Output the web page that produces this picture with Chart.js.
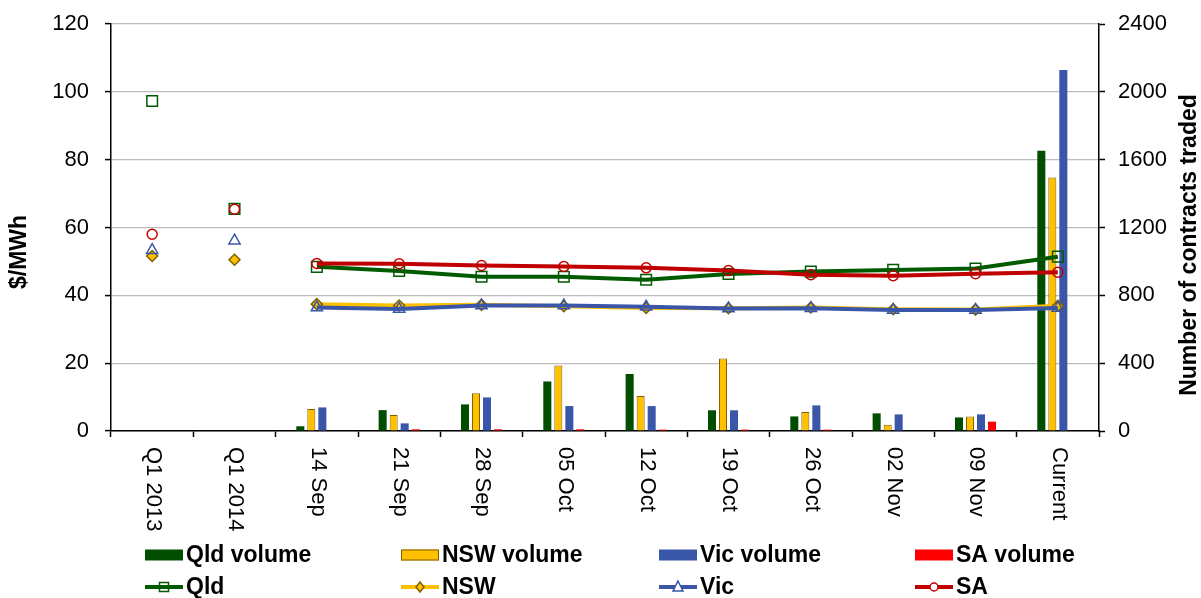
<!DOCTYPE html>
<html>
<head>
<meta charset="utf-8">
<title>Contract prices and volumes</title>
<script src="https://cdn.jsdelivr.net/npm/chart.js@4/dist/chart.umd.min.js"></script>
<style>
  html, body { margin: 0; padding: 0; background: #ffffff; }
  #wrap { width: 1201px; height: 598px; }
</style>
</head>
<body>
<div id="wrap"><canvas id="c" width="1201" height="598"></canvas></div>
<script>
// Categories along the horizontal axis
const categories = ['Q1 2013', 'Q1 2014', '14 Sep', '21 Sep', '28 Sep', '05 Oct', '12 Oct',
                    '19 Oct', '26 Oct', '02 Nov', '09 Nov', 'Current'];

// Prices ($/MWh, left axis)
const qldPrice = [97.3, 65.5, 48.4, 47.2, 45.5, 45.5, 44.6, 46.3, 47.0, 47.5, 47.9, 51.4];
const nswPrice = [51.6, 50.5, 37.4, 37.0, 37.2, 36.8, 36.3, 36.2, 36.4, 35.9, 35.8, 36.9];
const vicPrice = [53.3, 56.1, 36.4, 36.0, 37.0, 37.0, 36.6, 36.1, 36.2, 35.7, 35.7, 36.3];
const saPrice  = [58.0, 65.4, 49.4, 49.3, 48.8, 48.5, 48.1, 47.3, 46.1, 45.8, 46.4, 46.8];

// Contracts traded (right axis)
const qldVolume = [0, 0, 28, 123, 157, 292, 336, 122, 86, 104, 80, 1652];
const nswVolume = [0, 0, 129, 94, 222, 386, 206, 427, 112, 37, 86, 1495];
const vicVolume = [0, 0, 139, 45, 198, 147, 147, 122, 151, 98, 98, 2129];
const saVolume  = [0, 0, 0, 10, 10, 10, 8, 8, 8, 0, 55, 0];

// Axis ticks
const priceTicks = [0, 20, 40, 60, 80, 100, 120];
const volumeTicks = [0, 400, 800, 1200, 1600, 2000, 2400];

const FONT = '"Liberation Sans", Arial, Helvetica, sans-serif';
const C = {
  qldBar: '#004d00', qldLine: '#005a00',
  nsw: '#ffc000', nswEdge: '#7f6000',
  vic: '#3a56a8', sa: '#ff0000', saLine: '#c00000'
};

// the quarterly points stand alone; the weekly series is joined up
const hideLead = ctx => (ctx.p0DataIndex < 2 ? 'rgba(0,0,0,0)' : undefined);

function lineSet(label, data, color, style, radius, fill, edge, order) {
  return {
    type: 'line', label, data, yAxisID: 'y', order,
    borderColor: color, borderWidth: 4, tension: 0, fill: false,
    pointStyle: style, pointRadius: radius, pointHoverRadius: radius,
    pointBackgroundColor: fill, pointBorderColor: edge, pointBorderWidth: 1.5,
    segment: { borderColor: hideLead }
  };
}
function barSet(label, data, color, edge, bw) {
  return {
    type: 'bar', label, data, yAxisID: 'y2', order: 10,
    backgroundColor: color, borderColor: edge, borderWidth: bw,
    categoryPercentage: 0.535, barPercentage: 0.73
  };
}

const datasets = [
  barSet('Qld volume', qldVolume, C.qldBar, C.qldBar, 0),
  barSet('NSW volume', nswVolume, C.nsw, C.nswEdge, 1),
  barSet('Vic volume', vicVolume, C.vic, C.vic, 0),
  barSet('SA volume', saVolume, C.sa, C.sa, 0),
  lineSet('Qld', qldPrice, C.qldLine, 'rect', 7.5, 'rgba(0,0,0,0)', C.qldLine, 4),
  lineSet('NSW', nswPrice, C.nsw, 'rectRot', 5.5, C.nsw, C.nswEdge, 3),
  lineSet('Vic', vicPrice, C.vic, 'triangle', 6.5, 'rgba(0,0,0,0)', C.vic, 2),
  lineSet('SA', saPrice, C.saLine, 'circle', 5, 'rgba(0,0,0,0)', C.saLine, 1)
];

// legend entries: [label, kind, colour, edge, marker]
const legendRows = [
  [['Qld volume', 'bar', C.qldBar, null], ['NSW volume', 'bar', C.nsw, C.nswEdge],
   ['Vic volume', 'bar', C.vic, null], ['SA volume', 'bar', C.sa, null]],
  [['Qld', 'line', C.qldLine, C.qldLine, 'square'], ['NSW', 'line', C.nsw, C.nswEdge, 'diamond'],
   ['Vic', 'line', C.vic, C.vic, 'triangle'], ['SA', 'line', C.saLine, C.saLine, 'circle']]
];
const legendCols = [145, 401, 659, 915];
const legendRowY = [555, 587];

function marker(ctx, kind, x, y, fill, edge) {
  ctx.save();
  ctx.lineWidth = 1.5;
  ctx.strokeStyle = edge;
  ctx.beginPath();
  if (kind === 'square') {
    ctx.rect(x - 4.5, y - 4.5, 9, 9);
  } else if (kind === 'diamond') {
    ctx.moveTo(x, y - 5); ctx.lineTo(x + 4, y); ctx.lineTo(x, y + 5); ctx.lineTo(x - 4, y); ctx.closePath();
  } else if (kind === 'triangle') {
    ctx.moveTo(x, y - 6); ctx.lineTo(x + 5, y + 4); ctx.lineTo(x - 5, y + 4); ctx.closePath();
  } else {
    ctx.arc(x, y, 4, 0, Math.PI * 2);
  }
  if (fill) { ctx.fillStyle = fill; ctx.fill(); }
  ctx.stroke();
  ctx.restore();
}

const extras = {
  id: 'extras',
  afterDraw(chart) {
    const ctx = chart.ctx;
    const xs = chart.scales.x;
    const area = chart.chartArea;
    ctx.save();
    ctx.fillStyle = '#000';

    // category labels, turned to read downwards
    ctx.font = '22px ' + FONT;
    ctx.textAlign = 'left';
    ctx.textBaseline = 'middle';
    categories.forEach((label, i) => {
      const px = xs.getPixelForValue(i);
      ctx.save();
      ctx.translate(px + 1, area.bottom + 16);
      ctx.rotate(Math.PI / 2);
      ctx.fillText(label, 0, 0);
      ctx.restore();
    });

    // axis titles, both reading upwards
    ctx.font = 'bold 23px ' + FONT;
    ctx.textAlign = 'center';
    ctx.save();
    ctx.translate(20, 252);
    ctx.rotate(-Math.PI / 2);
    ctx.fillText('$/MWh', 0, 0);
    ctx.restore();
    ctx.save();
    ctx.translate(1190, 245);
    ctx.rotate(-Math.PI / 2);
    ctx.fillText('Number of contracts traded', 0, 0);
    ctx.restore();

    // legend
    ctx.textAlign = 'left';
    legendRows.forEach((row, r) => {
      const cy = legendRowY[r];
      row.forEach((item, k) => {
        const x0 = legendCols[k];
        const [label, kind, color, edge, mk] = item;
        if (kind === 'bar') {
          ctx.fillStyle = color;
          ctx.fillRect(x0, cy - 5.5, 38, 11);
          if (edge) {
            ctx.strokeStyle = edge; ctx.lineWidth = 1;
            ctx.strokeRect(x0 + 0.5, cy - 5, 37, 10);
          }
        } else {
          ctx.strokeStyle = color; ctx.lineWidth = 4;
          ctx.beginPath(); ctx.moveTo(x0, cy); ctx.lineTo(x0 + 38, cy); ctx.stroke();
          marker(ctx, mk, x0 + 19, cy, mk === 'diamond' ? color : (mk === 'square' ? null : '#ffffff'), edge);
        }
        ctx.fillStyle = '#000';
        ctx.fillText(label, x0 + 41, cy + 1);
      });
    });
    ctx.restore();
  }
};

// fixed axis sizes keep the plot area where it belongs
function fixVertical(width) {
  return s => { s.width = width; s.paddingTop = 0; s.paddingBottom = 0; };
}

new Chart(document.getElementById('c'), {
  data: { labels: categories, datasets },
  options: {
    responsive: false,
    animation: false,
    layout: { padding: { top: 24, left: 0, right: 0, bottom: 0 } },
    plugins: { legend: { display: false }, tooltip: { enabled: false } },
    font: { family: FONT },
    scales: {
      x: {
        type: 'category',
        offset: true,
        grid: { drawOnChartArea: false, drawTicks: true, tickLength: 6, tickColor: '#000', tickWidth: 1.5, offset: true },
        border: { display: true, color: '#000', width: 1.5 },
        ticks: { display: false },
        afterFit(s) { s.height = 167; s.paddingLeft = 0; s.paddingRight = 0; }
      },
      y: {
        position: 'left',
        min: 0, max: 120,
        afterBuildTicks(s) { s.ticks = priceTicks.map(v => ({ value: v })); },
        grid: { color: '#bdbdbd', lineWidth: 1.2, drawTicks: true, tickLength: 6, tickColor: '#000', tickWidth: 1.5 },
        border: { display: true, color: '#000', width: 1.5 },
        ticks: { color: '#000', padding: 16, font: { family: FONT, size: 22 }, callback: v => String(v) },
        afterFit: fixVertical(111)
      },
      y2: {
        position: 'right',
        min: 0, max: 2400,
        afterBuildTicks(s) { s.ticks = volumeTicks.map(v => ({ value: v })); },
        grid: { drawOnChartArea: false, drawTicks: true, tickLength: 6, tickColor: '#000', tickWidth: 1.5 },
        border: { display: true, color: '#000', width: 1.5 },
        ticks: { color: '#000', padding: 13, font: { family: FONT, size: 22 }, callback: v => String(v) },
        afterFit: fixVertical(102)
      }
    }
  },
  plugins: [extras]
});
</script>
</body>
</html>
